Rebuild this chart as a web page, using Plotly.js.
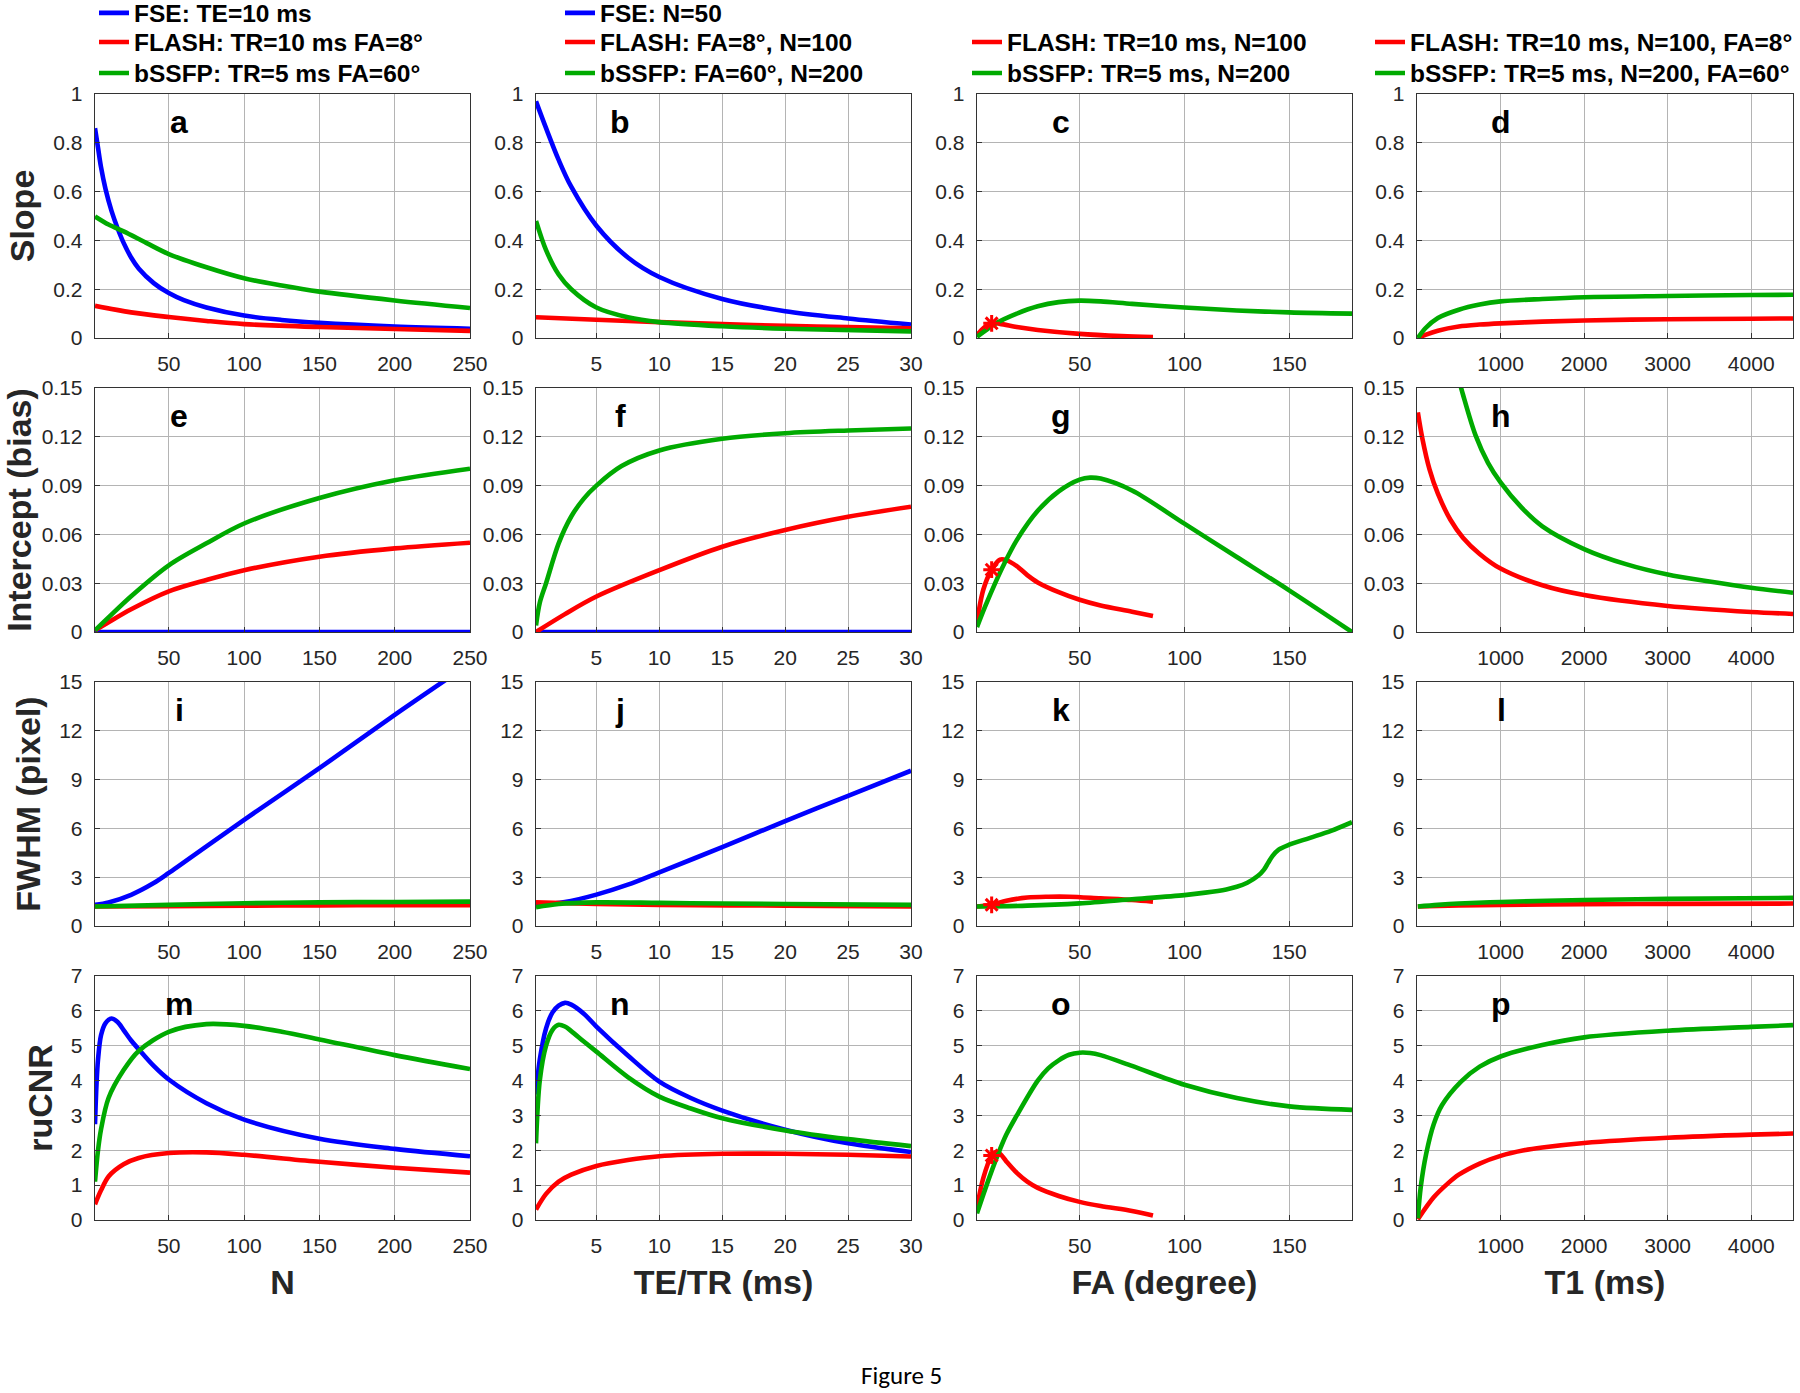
<!DOCTYPE html>
<html><head><meta charset="utf-8">
<script src="https://cdn.plot.ly/plotly-3.0.1.min.js"></script>
<style>html,body{margin:0;padding:0;background:#fff}</style>
</head><body><div id="chart" style="width:1800px;height:1393px"></div>
<script>
// ---------- DATA ----------
// Column 1: x = N
const aN_fse   = [1,3,5,8,12,16,20,25,30,40,50,60,75,100,125,150,200,250];
const a_fse    = [0.86,0.78,0.70,0.61,0.52,0.45,0.39,0.33,0.285,0.225,0.184,0.155,0.125,0.092,0.074,0.062,0.047,0.038];
const aN_flash = [1,25,50,75,100,150,200,250];
const a_flash  = [0.132,0.105,0.086,0.07,0.057,0.045,0.037,0.029];
const aN_bssfp = [1,10,20,35,50,75,100,125,150,200,250];
const a_bssfp  = [0.498,0.465,0.437,0.39,0.344,0.29,0.245,0.215,0.19,0.154,0.123];

const eN_fse   = [1,250];
const e_fse    = [0,0];
const eN_flash = [1,10,25,50,75,100,150,200,250];
const e_flash  = [0.001,0.006,0.014,0.025,0.032,0.038,0.0463,0.0514,0.0549];
const eN_bssfp = [1,10,25,50,75,100,150,200,250];
const e_bssfp  = [0.001,0.009,0.022,0.041,0.0545,0.0667,0.0824,0.0933,0.1004];

const iN_fse   = [1,10,25,40,50,75,100,150,200,235];
const i_fse    = [1.3,1.45,1.92,2.64,3.26,4.9,6.53,9.7,12.98,15.2];
const iN_flash = [1,50,100,150,200,250];
const i_flash  = [1.2,1.22,1.25,1.27,1.28,1.28];
const iN_bssfp = [1,50,100,150,200,250];
const i_bssfp  = [1.2,1.3,1.4,1.45,1.48,1.5];

const mN_fse   = [1,2,3,5,8,12,16,20,25,30,40,50,75,100,150,200,250];
const m_fse    = [2.75,3.9,4.6,5.3,5.65,5.78,5.68,5.45,5.15,4.9,4.42,4.03,3.35,2.88,2.33,2.04,1.83];
const mN_flash = [1,5,10,20,30,50,75,100,150,200,250];
const m_flash  = [0.45,0.85,1.25,1.6,1.78,1.92,1.94,1.87,1.67,1.5,1.36];
const mN_bssfp = [1,3,5,10,20,30,50,75,100,125,150,200,250];
const m_bssfp  = [1.1,2.0,2.6,3.5,4.3,4.85,5.4,5.62,5.57,5.4,5.18,4.73,4.33];

// Column 2: x = TE/TR (ms)
const bT_fse   = [0.2,1,2,3,5,7.5,10,15,20,25,30];
const b_fse    = [0.97,0.86,0.73,0.62,0.46,0.33,0.25,0.16,0.11,0.08,0.055];
const bT_flash = [0.2,5,10,15,20,25,30];
const b_flash  = [0.085,0.075,0.065,0.057,0.05,0.045,0.04];
const bT_bssfp = [0.2,1,2,3,5,7.5,10,15,20,30];
const b_bssfp  = [0.48,0.36,0.26,0.2,0.125,0.085,0.065,0.048,0.038,0.027];

const fT_fse   = [0.2,30];
const f_fse    = [0,0];
const fT_flash = [0.2,2.5,5,10,15,20,25,30];
const f_flash  = [0.0,0.011,0.0218,0.038,0.0524,0.0627,0.0708,0.077];
const fT_bssfp = [0.2,0.5,1,2,3,4,5,7,10,15,20,25,30];
const f_bssfp  = [0.004,0.018,0.03,0.0545,0.071,0.082,0.09,0.102,0.1116,0.1188,0.1222,0.1239,0.1251];

const jT_fse   = [0.2,2.5,5,7.5,10,15,20,25,30];
const j_fse    = [1.3,1.47,1.93,2.54,3.3,4.85,6.45,8.0,9.55];
const jT_flash = [0.2,5,10,20,30];
const j_flash  = [1.45,1.35,1.3,1.25,1.2];
const jT_bssfp = [0.2,2,5,10,15,20,30];
const j_bssfp  = [1.15,1.35,1.45,1.42,1.38,1.35,1.3];

const nT_fse   = [0.2,0.5,1,1.5,2,2.5,3,4,5,7.5,10,12.5,15,20,25,30];
const n_fse    = [3.6,4.6,5.5,5.95,6.15,6.23,6.18,5.92,5.55,4.72,3.97,3.5,3.14,2.59,2.2,1.95];
const nT_flash = [0.2,1,2,3,5,7.5,10,15,20,25,30];
const n_flash  = [0.3,0.75,1.1,1.3,1.55,1.72,1.83,1.9,1.9,1.87,1.82];
const nT_bssfp = [0.2,0.5,1,1.5,2,2.5,3,4,5,7.5,10,12.5,15,20,25,30];
const n_bssfp  = [2.2,4.0,5.0,5.45,5.6,5.55,5.42,5.12,4.83,4.1,3.54,3.2,2.92,2.57,2.32,2.12];

// Column 3: x = FA (degree); star marks FA = 8 on the FLASH curve
const cF_flash = [1,4,8,12,20,30,50,70,85];
const c_flash  = [0.012,0.04,0.06,0.058,0.045,0.033,0.017,0.008,0.004];
const cF_bssfp = [1,5,10,20,30,40,50,60,75,100,125,150,180];
const c_bssfp  = [0.005,0.03,0.06,0.1,0.13,0.147,0.153,0.15,0.14,0.125,0.113,0.105,0.1];
const c_star   = [8, 0.06];

const gF_flash = [1,4,8,12,15,20,25,30,40,50,60,75,85];
const g_flash  = [0.006,0.026,0.0383,0.0445,0.0442,0.0405,0.035,0.0305,0.0245,0.0198,0.0163,0.0125,0.0098];
const gF_bssfp = [1,5,10,14,20,30,40,50,55,60,75,100,125,150,180];
const g_bssfp  = [0.003,0.016,0.031,0.042,0.0565,0.0745,0.0865,0.0937,0.0949,0.0943,0.087,0.0666,0.0461,0.0256,0.0];
const g_star   = [8, 0.0383];

const kF_flash = [1,8,15,25,35,45,60,75,85];
const k_flash  = [1.2,1.3,1.55,1.75,1.8,1.8,1.7,1.6,1.5];
const kF_bssfp = [1,25,50,75,100,110,120,125,130,135,138,140,142,145,150,160,170,180];
const k_bssfp  = [1.2,1.25,1.39,1.64,1.9,2.05,2.25,2.41,2.66,3.07,3.47,3.89,4.3,4.7,5.0,5.42,5.85,6.38];
const k_star   = [8, 1.3];

const oF_flash = [1,4,8,10,12,15,20,25,30,40,50,60,75,85];
const o_flash  = [0.35,1.2,1.85,1.95,1.9,1.68,1.35,1.1,0.92,0.69,0.52,0.4,0.26,0.13];
const oF_bssfp = [1,5,11,15,20,30,35,40,45,50,55,60,75,100,125,150,180];
const o_bssfp  = [0.19,0.9,1.88,2.45,3.0,4.0,4.35,4.58,4.74,4.8,4.79,4.73,4.42,3.88,3.5,3.26,3.16];
const o_star   = [8, 1.85];

// Column 4: x = T1 (ms)
const dT_flash = [10,100,250,500,750,1000,1500,2000,3000,4000,4500];
const d_flash  = [0.0,0.013,0.03,0.047,0.055,0.06,0.067,0.072,0.077,0.079,0.08];
const dT_bssfp = [10,100,250,500,750,1000,1500,2000,3000,4000,4500];
const d_bssfp  = [0.0,0.04,0.082,0.116,0.137,0.15,0.16,0.167,0.172,0.176,0.177];

const hT_flash = [10,64,150,250,400,550,750,1000,1500,2000,3000,4000,4500];
const h_flash  = [0.135,0.119,0.1,0.085,0.069,0.058,0.048,0.039,0.0287,0.0227,0.016,0.0123,0.0111];
const hT_bssfp = [450,550,700,850,1000,1250,1500,2000,2500,3000,3500,4000,4500];
const h_bssfp  = [0.165,0.146,0.121,0.104,0.092,0.0766,0.065,0.051,0.0417,0.0353,0.031,0.0272,0.0241];

const lT_flash = [10,500,1000,2000,3000,4500];
const l_flash  = [1.2,1.26,1.3,1.34,1.36,1.38];
const lT_bssfp = [10,250,500,1000,2000,3000,4500];
const l_bssfp  = [1.2,1.3,1.38,1.48,1.6,1.67,1.73];

const pT_flash = [10,200,370,500,750,1000,1280,1500,2000,3000,4000,4500];
const p_flash  = [0.02,0.65,1.05,1.3,1.62,1.84,2.0,2.08,2.21,2.36,2.45,2.48];
const pT_bssfp = [10,45,110,200,300,530,750,1000,1500,2000,3000,4000,4500];
const p_bssfp  = [0.05,0.95,1.9,2.75,3.3,3.98,4.4,4.69,5.02,5.24,5.43,5.54,5.59];

// Axis ticks / labels
const xTickVals = [[50,100,150,200,250],[5,10,15,20,25,30],[50,100,150],[1000,2000,3000,4000]];
const xTickText = [['50','100','150','200','250'],['5','10','15','20','25','30'],['50','100','150'],['1000','2000','3000','4000']];
const xRanges   = [[1,250],[0.2,30],[1,180],[0,4500]];
const xTitles   = ['N','TE/TR (ms)','FA (degree)','T1 (ms)'];
const yTickVals = [[0,0.2,0.4,0.6,0.8,1],[0,0.03,0.06,0.09,0.12,0.15],[0,3,6,9,12,15],[0,1,2,3,4,5,6,7]];
const yTickText = [['0','0.2','0.4','0.6','0.8','1'],['0','0.03','0.06','0.09','0.12','0.15'],['0','3','6','9','12','15'],['0','1','2','3','4','5','6','7']];
const yRanges   = [[0,1],[0,0.15],[0,15],[0,7]];
const yTitles   = ['Slope','Intercept (bias)','FWHM (pixel)','ruCNR'];
const panelLetters = ['a','b','c','d','e','f','g','h','i','j','k','l','m','n','o','p'];
const legendText = [
  ['FSE: TE=10 ms','FLASH: TR=10 ms FA=8°','bSSFP: TR=5 ms FA=60°'],
  ['FSE: N=50','FLASH: FA=8°, N=100','bSSFP: FA=60°, N=200'],
  [null,'FLASH: TR=10 ms, N=100','bSSFP: TR=5 ms, N=200'],
  [null,'FLASH: TR=10 ms, N=100, FA=8°','bSSFP: TR=5 ms, N=200, FA=60°']
];

// ---------- PANELS ----------
const panels = [
  {s:[[aN_fse,a_fse],[aN_flash,a_flash],[aN_bssfp,a_bssfp]]},
  {s:[[bT_fse,b_fse],[bT_flash,b_flash],[bT_bssfp,b_bssfp]]},
  {s:[null,[cF_flash,c_flash],[cF_bssfp,c_bssfp]], star:c_star},
  {s:[null,[dT_flash,d_flash],[dT_bssfp,d_bssfp]]},
  {s:[[eN_fse,e_fse],[eN_flash,e_flash],[eN_bssfp,e_bssfp]]},
  {s:[[fT_fse,f_fse],[fT_flash,f_flash],[fT_bssfp,f_bssfp]]},
  {s:[null,[gF_flash,g_flash],[gF_bssfp,g_bssfp]], star:g_star},
  {s:[null,[hT_flash,h_flash],[hT_bssfp,h_bssfp]]},
  {s:[[iN_fse,i_fse],[iN_flash,i_flash],[iN_bssfp,i_bssfp]]},
  {s:[[jT_fse,j_fse],[jT_flash,j_flash],[jT_bssfp,j_bssfp]]},
  {s:[null,[kF_flash,k_flash],[kF_bssfp,k_bssfp]], star:k_star},
  {s:[null,[lT_flash,l_flash],[lT_bssfp,l_bssfp]]},
  {s:[[mN_fse,m_fse],[mN_flash,m_flash],[mN_bssfp,m_bssfp]]},
  {s:[[nT_fse,n_fse],[nT_flash,n_flash],[nT_bssfp,n_bssfp]]},
  {s:[null,[oF_flash,o_flash],[oF_bssfp,o_bssfp]], star:o_star},
  {s:[null,[pT_flash,p_flash],[pT_bssfp,p_bssfp]]}
];

// ---------- LAYOUT ----------
const W = 1800, H = 1393;
const colPx = [[95,470],[536,911],[977,1352],[1417,1793]];
const rowPx = [[94,338],[388,632],[682,926],[976,1220]];
const colors = ['#0000ff','#ff0000','#00aa00'];
const legTextX = [134,600,1007,1410];
const legRowY = [13,42,73];
const tickFont = {family:'"Liberation Sans", Arial, sans-serif', size:21, color:'#262626'};
const titleFont = {family:'"Liberation Sans", Arial, sans-serif', size:34, color:'#262626'};
const legFont = {family:'"Liberation Sans", Arial, sans-serif', size:24.5, color:'#000000'};

const traces = [];
const layout = {
  width:W, height:H,
  margin:{l:0,r:0,t:0,b:0,autoexpand:false},
  paper_bgcolor:'#ffffff', plot_bgcolor:'#ffffff',
  annotations:[], showlegend:true
};

let legendCount = 0;
panels.forEach((p, idx) => {
  const r = Math.floor(idx/4), c = idx % 4, k = idx + 1;
  const xk = k === 1 ? 'x' : 'x' + k, yk = k === 1 ? 'y' : 'y' + k;
  const xa = k === 1 ? 'xaxis' : 'xaxis' + k, ya = k === 1 ? 'yaxis' : 'yaxis' + k;
  layout[xa] = {
    domain:[colPx[c][0]/W, colPx[c][1]/W], anchor:yk, range:xRanges[c],
    tickvals:xTickVals[c], ticktext:xTickText[c], tickfont:tickFont,
    showgrid:true, gridcolor:'#b4b4b4', gridwidth:1, zeroline:false,
    showline:true, mirror:true, linecolor:'#333333', linewidth:1.3,
    ticks:'inside', ticklen:5, tickcolor:'#333333', ticklabelstandoff:6, fixedrange:true
  };
  if (r === 3) layout[xa].title = {text:'<b>' + xTitles[c] + '</b>', font:titleFont, standoff:14};
  layout[ya] = {
    domain:[1 - rowPx[r][1]/H, 1 - rowPx[r][0]/H], anchor:xk, range:yRanges[r],
    tickvals:yTickVals[r], ticktext:yTickText[r], tickfont:tickFont,
    showgrid:true, gridcolor:'#b4b4b4', gridwidth:1, zeroline:false,
    showline:true, mirror:true, linecolor:'#333333', linewidth:1.3,
    ticks:'inside', ticklen:5, tickcolor:'#333333', ticklabelstandoff:7, fixedrange:true
  };
  if (c === 0) layout[ya].title = {text:'<b>' + yTitles[r] + '</b>', font:titleFont, standoff:8};

  p.s.forEach((ser, si) => {
    if (!ser) return;
    const tr = {
      type:'scatter', mode:'lines', x:ser[0], y:ser[1], xaxis:xk, yaxis:yk,
      line:{color:colors[si], width:4.6, shape:'spline', smoothing:0.9},
      hoverinfo:'skip', showlegend:false
    };
    if (r === 0) {
      legendCount++;
      const lname = legendCount === 1 ? 'legend' : 'legend' + legendCount;
      tr.showlegend = true;
      tr.legend = lname;
      tr.name = '<b>' + legendText[c][si] + '</b>';
      layout[lname] = {
        x:(legTextX[c] - 40)/W, y:1 - legRowY[si]/H, xanchor:'left', yanchor:'middle',
        xref:'paper', yref:'paper', bgcolor:'rgba(0,0,0,0)', borderwidth:0,
        font:legFont, itemclick:false, itemdoubleclick:false
      };
    }
    traces.push(tr);
  });
  if (p.star) {
    traces.push({
      type:'scatter', mode:'markers', x:[p.star[0]], y:[p.star[1]], xaxis:xk, yaxis:yk,
      marker:{symbol:'asterisk-open', size:14, color:'#ff0000', line:{color:'#ff0000', width:3}},
      hoverinfo:'skip', showlegend:false
    });
  }
  layout.annotations.push({
    text:'<b>' + panelLetters[idx] + '</b>', xref:xk + ' domain', yref:yk + ' domain',
    x:0.224, y:0.885, xanchor:'center', yanchor:'middle', showarrow:false,
    font:{family:'"Liberation Sans", Arial, sans-serif', size:32, color:'#000000'}
  });
});

layout.annotations.push({
  text:'Figure 5', xref:'paper', yref:'paper', x:901/W, y:1 - 1375/H,
  xanchor:'center', yanchor:'middle', showarrow:false,
  font:{family:'Carlito, "Liberation Sans", Arial, sans-serif', size:25, color:'#000000'}
});

Plotly.newPlot('chart', traces, layout, {staticPlot:true, displayModeBar:false});
</script></body></html>
